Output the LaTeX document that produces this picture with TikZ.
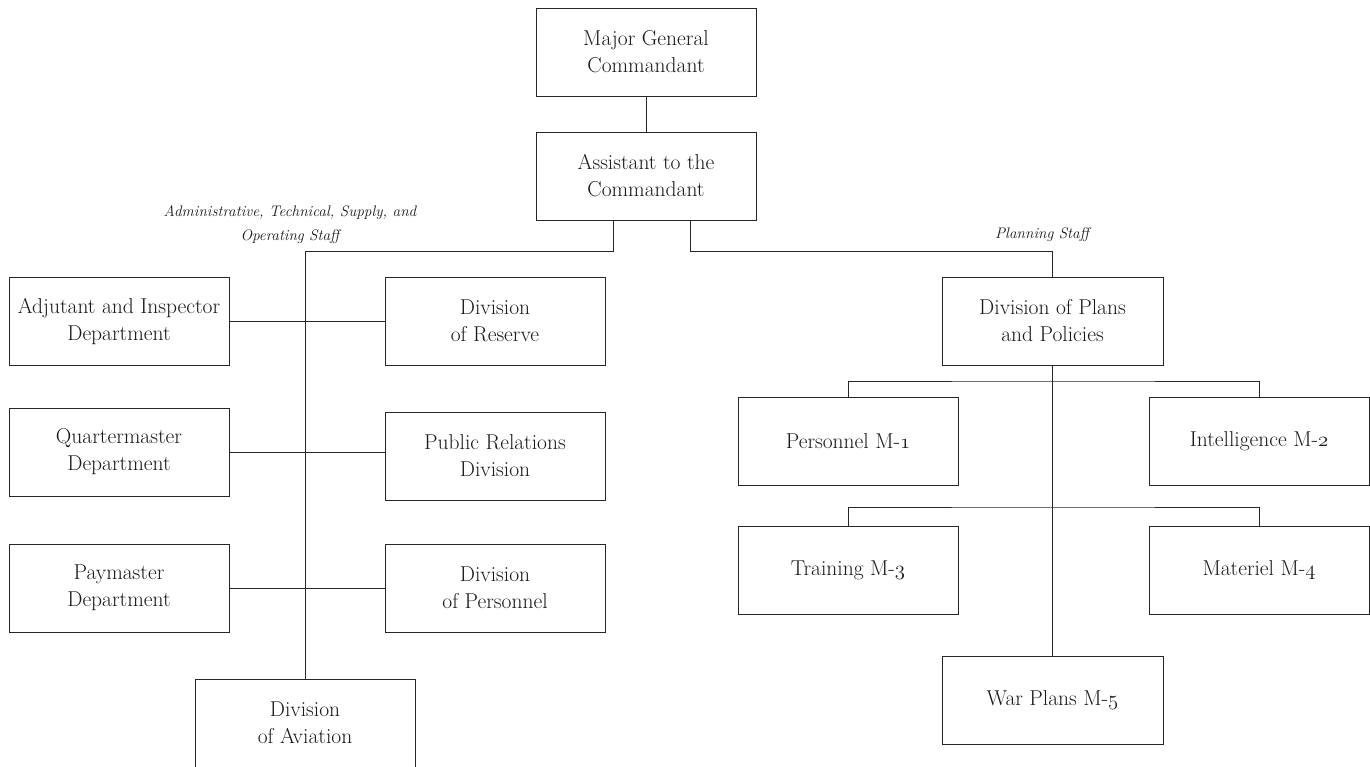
\documentclass[tikz,border=0pt]{standalone}
\newcommand{\osn}[1]{\ensuremath{\mathnormal{#1}}}
\begin{document}
\begin{tikzpicture}[x=1pt,y=-1pt,
  box/.style={draw=black!85, line width=1pt, minimum width=220pt, minimum height=88pt,
    inner sep=0pt, align=center, font=\fontsize{21.5}{27}\selectfont, text=black!90},
  conn/.style={draw=black!85, line width=1pt},
  stafflabel/.style={align=center, font=\fontsize{15.3}{24}\selectfont\itshape, text=black!90}]
\useasboundingbox (0,0) rectangle (1370,766);
\fill[white] (0,0) rectangle (1370,766);
\begin{scope}
\clip (0,0) rectangle (1370,766);
\node[box] (mg) at (646,52) {Major General\\Commandant};
\node[box] (asst) at (646,176) {Assistant to the\\Commandant};
\node[box] (adj) at (119,321) {Adjutant and Inspector\\Department};
\node[box] (res) at (495,321) {Division\\of Reserve};
\node[box] (qm) at (119,452) {Quartermaster\\Department};
\node[box] (pr) at (495,456) {Public Relations\\Division};
\node[box] (pay) at (119,588) {Paymaster\\Department};
\node[box] (pers) at (495,588) {Division\\of Personnel};
\node[box] (avi) at (305,723) {Division\\of Aviation};
\node[box, minimum width=221pt] (plans) at (1052.5,321) {Division of Plans\\and Policies};
\node[box] (m1) at (848,441) {Personnel M-\osn{1}};
\node[box] (m2) at (1259,441) {Intelligence M-\osn{2}};
\node[box] (m3) at (848,570.5) {Training M-\osn{3}};
\node[box] (m4) at (1259,570.5) {Materiel M-\osn{4}};
\node[box, minimum width=221pt] (m5) at (1052.5,700.5) {War Plans M-\osn{5}};

\node[stafflabel] (adminlbl) at (290,225) {Administrative, Technical, Supply, and\\Operating Staff};
\node[stafflabel] (planlbl) at (1042,235) {Planning Staff};

\coordinate (jl) at (305,251);
\coordinate (jr) at (1052.5,251);
\coordinate (b1) at (1052.5,381);
\coordinate (b2) at (1052.5,507);

\draw[conn] (mg) -- (asst);
\draw[conn] ([xshift=-33pt]asst.south) |- (jl) -- (avi.north);
\draw[conn] ([xshift=44pt]asst.south) |- (jr) -- (plans.north);
\draw[conn] (adj.east) -- (res.west);
\draw[conn] (qm.east) -- (pr.west |- qm.east);
\draw[conn] (pay.east) -- (pers.west);
\draw[conn] (plans.south) -- (m5.north);
\draw[conn] (m1.north) |- (b1) -| (m2.north);
\draw[conn] (m3.north) |- (b2) -| (m4.north);
\end{scope}
\end{tikzpicture}
\end{document}
